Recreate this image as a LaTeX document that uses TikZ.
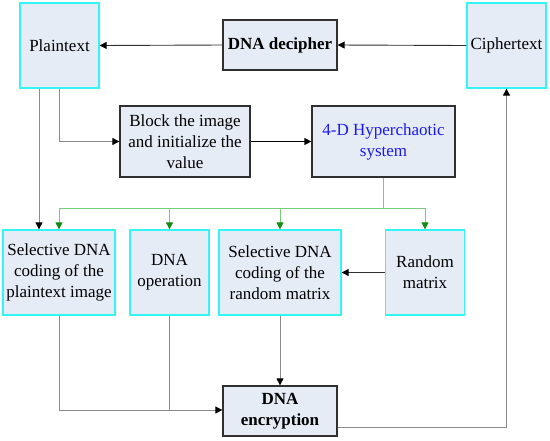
\documentclass[tikz,border=0pt]{standalone}
\usepackage{fontspec}
\setmainfont{Liberation Serif}
\usetikzlibrary{arrows.meta}
\definecolor{boxfill}{HTML}{E6ECF6}
\definecolor{cyanline}{HTML}{33F5F5}
\definecolor{darkline}{HTML}{303030}
\definecolor{grayline}{HTML}{8A8A8A}
\definecolor{greenline}{HTML}{7ACC7A}
\definecolor{greentip}{HTML}{138A13}
\definecolor{bluetext}{HTML}{1A1AF0}
\tikzset{
  base/.style={fill=boxfill, align=center, inner sep=1pt,
    font=\fontsize{17}{21}\selectfont},
  cyanbox/.style={base, draw=cyanline, line width=1.3pt},
  darkbox/.style={base, draw=darkline, line width=1.3pt},
  tipk/.style={-{Triangle[length=7pt,width=7pt,color=black]}},
  tipg/.style={-{Triangle[length=7pt,width=7pt,color=greentip]}},
  gline/.style={draw=grayline, line width=0.9pt},
  kline/.style={draw=darkline, line width=0.9pt},
  grline/.style={draw=greenline, line width=0.9pt},
}
\begin{document}
\begin{tikzpicture}[x=1pt,y=-1pt]
\useasboundingbox (0,0) rectangle (550,440);
% top row
\node[cyanbox, minimum width=79pt, minimum height=85pt] (plain) at (59.5,45.5) {Plaintext};
\node[darkbox, minimum width=114pt, minimum height=50pt, font=\fontsize{17}{21}\selectfont\bfseries] (decipher) at (280,45) {DNA decipher};
\node[cyanbox, minimum width=79pt, minimum height=85pt] (cipher) at (506.5,45.5) {Ciphertext};
% middle row
\node[darkbox, minimum width=130pt, minimum height=71pt] (block) at (185,141.5) {Block the image\\and initialize the\\value};
\node[darkbox, minimum width=143pt, minimum height=71pt, text=bluetext] (hyper) at (383.5,141.5) {4-D Hyperchaotic\\system};
% bottom row
\node[cyanbox, minimum width=112pt, minimum height=85pt] (sel1) at (59,272.5) {Selective DNA\\coding of the\\plaintext image};
\node[cyanbox, minimum width=79pt, minimum height=85pt] (op) at (169.5,272.5) {DNA\\operation};
\node[cyanbox, minimum width=122pt, minimum height=85pt] (sel2) at (280,272.5) {Selective DNA\\coding of the\\random matrix};
\node[cyanbox, minimum width=79pt, minimum height=85pt] (rand) at (425,272.5) {Random\\matrix};
\node[darkbox, minimum width=114pt, minimum height=50pt, font=\fontsize{17}{21}\selectfont\bfseries] (enc) at (280,411) {DNA\\encryption};
% coordinates
\coordinate (gsplit) at (383.5,208);
\coordinate (jA) at (59,410);
\coordinate (jB) at (169.5,410);
\coordinate (cr) at (506.5,427);
% top arrows
\draw[kline, tipk] (cipher.west) -- (decipher.east);
\draw[kline, tipk] (decipher.west) -- (plain.east);
% plaintext down
\draw[gline, tipk] (plain.south -| 39,0) -- (sel1.north -| 39,0);
\draw[gline, tipk] (plain.south) -- (plain.south |- block.west) -- (block.west);
\draw[draw=black, line width=1.3pt, tipk] (block.east) -- (hyper.east -| hyper.west);
% green
\draw[grline] (hyper.south) -- (gsplit);
\draw[grline] (sel1.north |- gsplit) -- (rand.north |- gsplit);
\draw[grline, tipg] (sel1.north |- gsplit) -- (sel1.north);
\draw[grline, tipg] (op.north |- gsplit) -- (op.north);
\draw[grline, tipg] (sel2.north |- gsplit) -- (sel2.north);
\draw[grline, tipg] (rand.north |- gsplit) -- (rand.north);
% random -> sel2
\draw[kline, tipk] (rand.west) -- (sel2.east);
% to encryption
\draw[gline, tipk] (sel2.south) -- (enc.north);
\draw[gline, tipk] (sel1.south) -- (jA) -- (enc.west |- jA);
\draw[gline] (op.south) -- (jB);
% encryption -> ciphertext
\draw[gline, tipk] (enc.east |- cr) -- (cr) -- (cipher.south);
\end{tikzpicture}
\end{document}
